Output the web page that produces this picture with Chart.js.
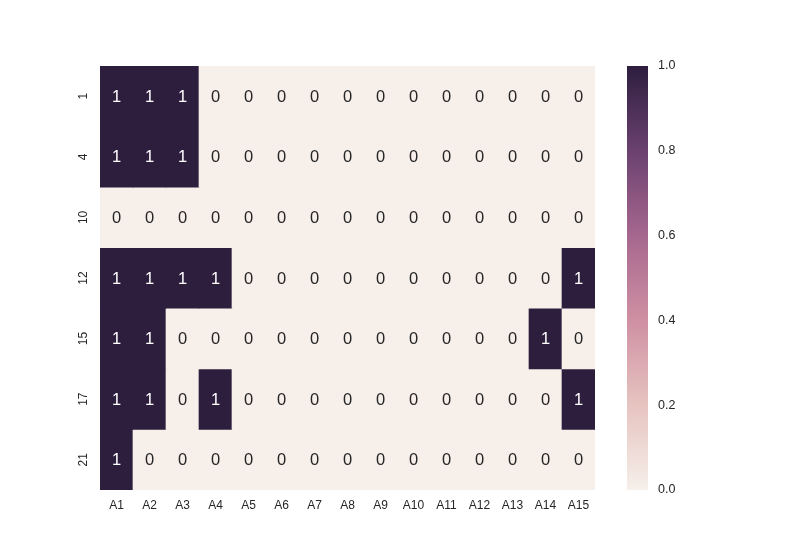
<!DOCTYPE html>
<html>
<head>
<meta charset="utf-8">
<script src="https://cdn.jsdelivr.net/npm/chart.js@4/dist/chart.umd.min.js"></script>
<style>
body { margin:0; background:#fff; }
</style>
</head>
<body>
<canvas id="canvas" width="800" height="550"></canvas>
<script>
// Les données de la carte de chaleur
var colonnes = ["A1","A2","A3","A4","A5","A6","A7","A8","A9","A10","A11","A12","A13","A14","A15"];
var lignes = ["1","4","10","12","15","17","21"];
var valeurs1  = [1,1,1,0,0,0,0,0,0,0,0,0,0,0,0];
var valeurs4  = [1,1,1,0,0,0,0,0,0,0,0,0,0,0,0];
var valeurs10 = [0,0,0,0,0,0,0,0,0,0,0,0,0,0,0];
var valeurs12 = [1,1,1,1,0,0,0,0,0,0,0,0,0,0,1];
var valeurs15 = [1,1,0,0,0,0,0,0,0,0,0,0,0,1,0];
var valeurs17 = [1,1,0,1,0,0,0,0,0,0,0,0,0,0,1];
var valeurs21 = [1,0,0,0,0,0,0,0,0,0,0,0,0,0,0];
var echelleTicks = [0, 0.2, 0.4, 0.6, 0.8, 1.0];

var matrice = [valeurs1, valeurs4, valeurs10, valeurs12, valeurs15, valeurs17, valeurs21];

var fonce = "#2d1e3e";
var clair = "#f6efea";
var police = "'Liberation Sans', Arial, sans-serif";

function couleur(v){
	return v ? fonce : clair;
}

var datasets = [];
for (var r = 0; r < lignes.length; r++) {
	var d = [];
	for (var c = 0; c < colonnes.length; c++) {
		d.push([r, r+1]);
	}
	datasets.push({
		label: lignes[r],
		data: d,
		backgroundColor: matrice[r].map(couleur),
		borderWidth: 0,
		barPercentage: 1,
		categoryPercentage: 1
	});
}

// Ecrit les 0 et 1 dans les cases, puis dessine la barre de couleur
var annotations = {
	id: "annotations",
	afterDatasetsDraw: function(chart) {
		var ctx = chart.ctx;
		var sx = chart.scales.x, sy = chart.scales.y;
		ctx.save();
		ctx.font = "16.5px " + police;
		ctx.textAlign = "center";
		ctx.textBaseline = "middle";
		for (var r = 0; r < lignes.length; r++) {
			for (var c = 0; c < colonnes.length; c++) {
				var v = matrice[r][c];
				ctx.fillStyle = v ? "#ffffff" : "#262626";
				ctx.fillText(String(v), sx.getPixelForValue(c), sy.getPixelForValue(r+0.5) + 1);
			}
		}
		var cb = chart.scales.cb;
		var g = ctx.createLinearGradient(0, cb.bottom, 0, cb.top);
		g.addColorStop(0.0, "#f6efea");
		g.addColorStop(0.2, "#e6c4c0");
		g.addColorStop(0.4, "#cf90a3");
		g.addColorStop(0.6, "#a6678f");
		g.addColorStop(0.8, "#6b4170");
		g.addColorStop(1.0, "#2d1e3e");
		ctx.fillStyle = g;
		ctx.fillRect(cb.left + 32, cb.top, 21, cb.bottom - cb.top);
		ctx.restore();
	}
};

var maCarte = {
	type: "bar",
	data: { labels: colonnes, datasets: datasets },
	options: {
		responsive: false,
		animation: false,
		layout: { padding: { top: 66, left: 0, right: 0, bottom: 20 } },
		plugins: { legend: { display: false }, tooltip: { enabled: false } },
		scales: {
			x: {
				stacked: true,
				grid: { display: false, drawTicks: false },
				border: { display: false },
				ticks: { color: "#262626", font: { family: police, size: 12 }, padding: 8 },
				afterFit: function(s){ s.height = 40; }
			},
			y: {
				type: "linear",
				min: 0,
				max: lignes.length,
				reverse: true,
				grid: { display: false, drawTicks: false },
				border: { display: false },
				afterBuildTicks: function(s){
					s.ticks = lignes.map(function(l, i){ return { value: i + 0.5 }; });
				},
				ticks: {
					color: "#262626",
					font: { family: police, size: 12 },
					minRotation: 90,
					maxRotation: 90,
					crossAlign: "center",
					padding: 10,
					callback: function(v){ return lignes[Math.floor(v)]; }
				},
				afterFit: function(s){ s.width = 100; }
			},
			cb: {
				type: "linear",
				position: "right",
				min: 0,
				max: 1,
				grid: { display: false, drawTicks: true, tickLength: 60 },
				border: { display: false },
				afterBuildTicks: function(s){
					s.ticks = echelleTicks.map(function(t){ return { value: t }; });
				},
				ticks: {
					color: "#262626",
					font: { family: police, size: 12.5 },
					padding: 3,
					callback: function(v){ return v.toFixed(1); }
				},
				afterFit: function(s){ s.width = 205; }
			}
		}
	},
	plugins: [annotations]
};

window.monGraphe = new Chart(document.getElementById("canvas"), maCarte);
</script>
</body>
</html>
